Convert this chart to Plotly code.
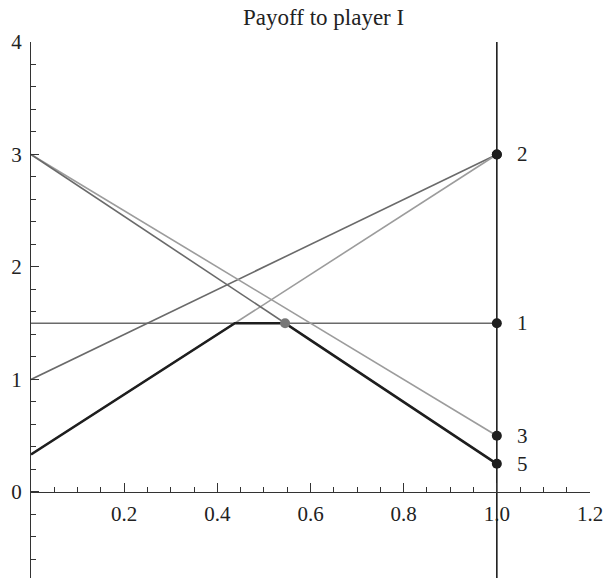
import numpy as np
import plotly.graph_objects as go

# Payoffs to player I at x=0 and x=1 for each column strategy
col_labels = ["1", "2", "3", "4", "5"]
pay_at_0 = [1.5, 1.0, 3.0, 1/3, 3.0]
pay_at_1 = [1.5, 3.0, 0.5, 3.0, 0.25]
line_colors = ["#6a6a6a", "#6a6a6a", "#9c9c9c", "#9c9c9c", "#6a6a6a"]
end_labels = ["1", "2", "3", "", "5"]

x_tickvals = [0, 0.2, 0.4, 0.6, 0.8, 1.0, 1.2]
x_ticktext = ["", "0.2", "0.4", "0.6", "0.8", "1.0", "1.2"]
y_tickvals = [0, 1, 2, 3, 4]
y_ticktext = ["0", "1", "2", "3", "4"]

YMIN, YMAX = -0.765, 4.0
XMIN, XMAX = 0.0, 1.2
SERIF = "Liberation Serif"

fig = go.Figure()

# strategy lines
for a, b, c in zip(pay_at_0, pay_at_1, line_colors):
    fig.add_trace(go.Scatter(x=[0, 1], y=[a, b], mode="lines",
                             line=dict(color=c, width=1.6), showlegend=False,
                             hoverinfo="skip"))

# lower envelope from pairwise intersections
xs = {0.0, 1.0}
n = len(pay_at_0)
for i in range(n):
    for j in range(i + 1, n):
        si = pay_at_1[i] - pay_at_0[i]
        sj = pay_at_1[j] - pay_at_0[j]
        if abs(si - sj) > 1e-12:
            xi = (pay_at_0[j] - pay_at_0[i]) / (si - sj)
            if 0 <= xi <= 1:
                xs.add(xi)
xs = np.array(sorted(xs))
vals = np.array([[a + (b - a) * x for a, b in zip(pay_at_0, pay_at_1)] for x in xs])
env = vals.min(axis=1)
fig.add_trace(go.Scatter(x=xs, y=env, mode="lines",
                         line=dict(color="#1e1e1e", width=2.6), showlegend=False))

# vertical line at x = 1
fig.add_trace(go.Scatter(x=[1, 1], y=[YMIN, YMAX], mode="lines",
                         line=dict(color="#1e1e1e", width=1.6), showlegend=False))

# optimal point: right end of the flat max segment
kmax = np.where(np.isclose(env, env.max()))[0][-1]
fig.add_trace(go.Scatter(x=[xs[kmax]], y=[env[kmax]], mode="markers",
                         marker=dict(color="#777777", size=10), showlegend=False))

# endpoint dots at x = 1
fig.add_trace(go.Scatter(x=[1] * n, y=pay_at_1, mode="markers",
                         marker=dict(color="#1e1e1e", size=10), showlegend=False))

for lab, yv in zip(end_labels, pay_at_1):
    if lab:
        fig.add_annotation(x=1.055, y=yv, text=lab, showarrow=False,
                           xanchor="center", yanchor="middle",
                           font=dict(family=SERIF, size=21, color="#222"))

fig.add_annotation(xref="paper", yref="paper", x=0.523, y=1.045,
                   text="Payoff to player I", showarrow=False,
                   xanchor="center", yanchor="middle",
                   font=dict(family=SERIF, size=23, color="#222"))

fig.update_layout(
    width=605, height=578,
    margin=dict(l=31, r=15, t=42, b=0, autoexpand=False),
    paper_bgcolor="white", plot_bgcolor="white",
    showlegend=False,
    hovermode=False,
    xaxis=dict(range=[XMIN, XMAX], anchor="free",
               position=(0 - YMIN) / (YMAX - YMIN),
               automargin=False,
               showgrid=False, zeroline=False, showline=True,
               linecolor="#333", linewidth=1.2,
               tickmode="array", tickvals=x_tickvals, ticktext=x_ticktext,
               ticks="inside", ticklen=9, tickcolor="#333", tickwidth=1,
               ticklabelstandoff=3,
               tickfont=dict(family=SERIF, size=21, color="#222"),
               minor=dict(dtick=0.05, tick0=0, ticks="inside", ticklen=5,
                          tickcolor="#333", tickwidth=1, showgrid=False)),
    yaxis=dict(range=[YMIN, YMAX],
               automargin=False,
               showgrid=False, zeroline=False, showline=True,
               linecolor="#333", linewidth=1.2,
               tickmode="array", tickvals=y_tickvals, ticktext=y_ticktext,
               ticks="inside", ticklen=8, tickcolor="#333", tickwidth=1,
               ticklabelstandoff=4,
               tickfont=dict(family=SERIF, size=21, color="#222"),
               minor=dict(dtick=0.2, tick0=0, ticks="inside", ticklen=5,
                          tickcolor="#333", tickwidth=1, showgrid=False)),
)

fig.write_html(
    "out.html",
    config={"displayModeBar": False},
    post_script="document.body.style.margin='0';document.body.style.overflow='hidden';",
)
